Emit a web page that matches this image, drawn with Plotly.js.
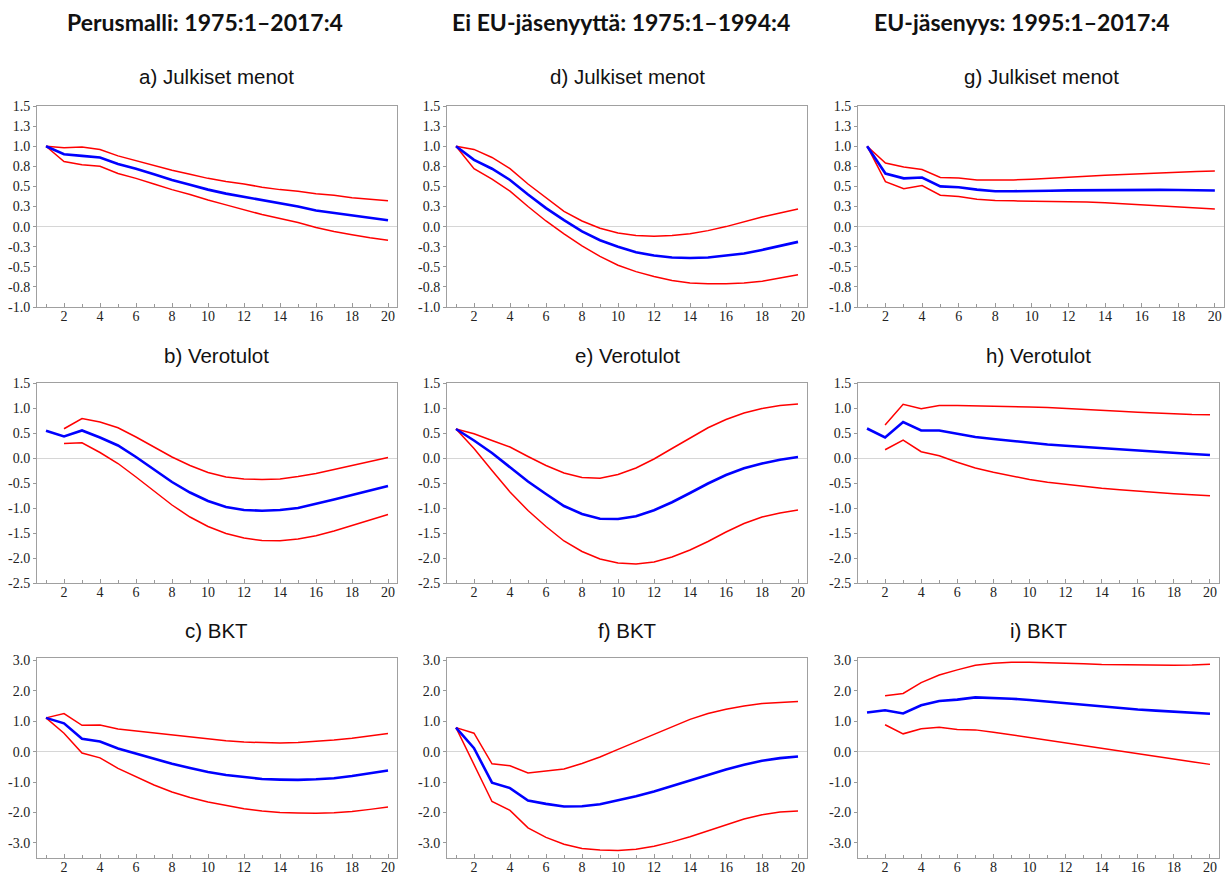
<!DOCTYPE html>
<html>
<head>
<meta charset="utf-8">
<script src="https://cdn.plot.ly/plotly-3.0.1.min.js"></script>
<style>html,body{margin:0;padding:0;background:#fff;}#chart{width:1225px;height:875px;}</style>
</head>
<body>
<div id="chart"></div>
<script>
// Horizon (quarters)
const horizon = [1,2,3,4,5,6,7,8,9,10,11,12,13,14,15,16,17,18,19,20];
const xTickVals = [2,4,6,8,10,12,14,16,18,20];

// Column headers and panel titles
const columnHeaders = ["Perusmalli: 1975:1\u20132017:4", "Ei EU-j\u00e4senyytt\u00e4: 1975:1\u20131994:4", "EU-j\u00e4senyys: 1995:1\u20132017:4"];
const panelTitles = ["a) Julkiset menot","b) Verotulot","c) BKT","d) Julkiset menot","e) Verotulot","f) BKT","g) Julkiset menot","h) Verotulot","i) BKT"];

// Y-axis ticks per row
const row1TickVals = [-1,-0.75,-0.5,-0.25,0,0.25,0.5,0.75,1,1.25,1.5];
const row1TickText = ["-1.0","-0.8","-0.5","-0.3","0.0","0.3","0.5","0.8","1.0","1.3","1.5"];
const row2TickVals = [-2.5,-2,-1.5,-1,-0.5,0,0.5,1,1.5];
const row2TickText = ["-2.5","-2.0","-1.5","-1.0","-0.5","0.0","0.5","1.0","1.5"];
const row3TickVals = [-3,-2,-1,0,1,2,3];
const row3TickText = ["-3.0","-2.0","-1.0","0.0","1.0","2.0","3.0"];

// a) Perusmalli, Julkiset menot
const a_mid = [1.00,0.90,0.88,0.86,0.78,0.72,0.65,0.58,0.52,0.46,0.41,0.37,0.33,0.29,0.25,0.20,0.17,0.14,0.11,0.08];
const a_up  = [1.00,0.98,0.99,0.96,0.88,0.82,0.76,0.70,0.65,0.60,0.56,0.53,0.49,0.46,0.44,0.41,0.39,0.36,0.34,0.32];
const a_lo  = [1.00,0.81,0.77,0.75,0.66,0.60,0.53,0.46,0.40,0.33,0.27,0.21,0.15,0.10,0.05,-0.01,-0.06,-0.10,-0.14,-0.17];
// b) Perusmalli, Verotulot
const b_mid = [0.545,0.43,0.55,0.41,0.25,0.02,-0.23,-0.48,-0.69,-0.86,-0.98,-1.04,-1.055,-1.04,-1.00,-0.92,-0.83,-0.74,-0.645,-0.56];
const b_up  = [null,0.585,0.79,0.72,0.605,0.42,0.22,0.02,-0.15,-0.29,-0.38,-0.42,-0.43,-0.42,-0.37,-0.31,-0.23,-0.15,-0.07,0.01];
const b_lo  = [null,0.29,0.305,0.11,-0.11,-0.38,-0.66,-0.94,-1.18,-1.37,-1.51,-1.60,-1.65,-1.655,-1.62,-1.555,-1.46,-1.35,-1.23,-1.13];
// c) Perusmalli, BKT
const c_mid = [1.11,0.93,0.42,0.335,0.10,-0.065,-0.24,-0.40,-0.54,-0.67,-0.77,-0.84,-0.90,-0.92,-0.93,-0.91,-0.875,-0.80,-0.71,-0.62];
const c_up  = [1.11,1.25,0.865,0.875,0.745,0.68,0.605,0.53,0.465,0.40,0.355,0.315,0.29,0.28,0.30,0.335,0.38,0.44,0.52,0.595];
const c_lo  = [1.11,0.605,-0.045,-0.205,-0.55,-0.82,-1.10,-1.33,-1.51,-1.66,-1.78,-1.88,-1.95,-2.00,-2.02,-2.03,-2.01,-1.97,-1.90,-1.82];
// d) Ei EU, Julkiset menot
const d_mid = [1.00,0.83,0.72,0.58,0.40,0.23,0.08,-0.06,-0.17,-0.25,-0.32,-0.36,-0.385,-0.39,-0.385,-0.36,-0.335,-0.29,-0.24,-0.19];
const d_up  = [1.00,0.96,0.86,0.72,0.53,0.36,0.19,0.07,-0.02,-0.08,-0.11,-0.12,-0.11,-0.09,-0.05,0.00,0.06,0.12,0.17,0.22];
const d_lo  = [1.00,0.72,0.59,0.44,0.25,0.07,-0.09,-0.24,-0.37,-0.48,-0.56,-0.62,-0.67,-0.70,-0.71,-0.71,-0.70,-0.68,-0.64,-0.60];
// e) Ei EU, Verotulot
const e_mid = [0.58,0.35,0.10,-0.18,-0.47,-0.72,-0.96,-1.12,-1.215,-1.22,-1.165,-1.045,-0.885,-0.70,-0.51,-0.34,-0.205,-0.11,-0.035,0.02];
const e_up  = [0.58,0.485,0.35,0.22,0.03,-0.15,-0.30,-0.39,-0.405,-0.33,-0.20,-0.02,0.19,0.405,0.605,0.77,0.90,0.99,1.05,1.08];
const e_lo  = [0.58,0.19,-0.25,-0.68,-1.05,-1.37,-1.66,-1.87,-2.02,-2.10,-2.12,-2.08,-1.98,-1.84,-1.67,-1.48,-1.31,-1.18,-1.10,-1.04];
// f) Ei EU, BKT
const f_mid = [0.79,0.11,-1.02,-1.20,-1.61,-1.72,-1.805,-1.795,-1.73,-1.61,-1.47,-1.31,-1.125,-0.94,-0.76,-0.585,-0.43,-0.30,-0.215,-0.16];
const f_up  = [0.79,0.605,-0.40,-0.465,-0.70,-0.64,-0.575,-0.39,-0.175,0.075,0.325,0.585,0.83,1.06,1.255,1.395,1.50,1.58,1.62,1.645];
const f_lo  = [0.79,-0.43,-1.64,-1.935,-2.51,-2.82,-3.05,-3.19,-3.24,-3.25,-3.21,-3.11,-2.97,-2.80,-2.61,-2.40,-2.22,-2.08,-1.99,-1.95];
// g) EU, Julkiset menot
const g_mid = [1.00,0.66,0.60,0.61,0.50,0.49,0.46,0.44,0.44,0.44,0.445,0.45,0.453,0.457,0.457,0.457,0.457,0.455,0.452,0.449];
const g_up  = [1.00,0.79,0.74,0.71,0.61,0.605,0.58,0.577,0.58,0.59,0.60,0.61,0.625,0.64,0.65,0.66,0.67,0.675,0.685,0.69];
const g_lo  = [1.00,0.56,0.47,0.51,0.39,0.375,0.34,0.325,0.32,0.317,0.317,0.313,0.305,0.297,0.285,0.272,0.26,0.247,0.23,0.218];
// h) EU, Verotulot
const h_mid = [0.59,0.41,0.72,0.55,0.55,0.485,0.42,0.38,0.34,0.305,0.27,0.245,0.22,0.19,0.165,0.14,0.12,0.10,0.08,0.06];
const h_up  = [null,0.66,1.075,0.985,1.05,1.05,1.045,1.045,1.03,1.02,1.01,0.995,0.975,0.955,0.935,0.915,0.895,0.88,0.87,0.865];
const h_lo  = [null,0.165,0.36,0.125,0.045,-0.085,-0.20,-0.285,-0.365,-0.43,-0.485,-0.53,-0.57,-0.605,-0.635,-0.665,-0.69,-0.715,-0.735,-0.755];
// i) EU, BKT
const i_mid = [1.285,1.36,1.255,1.525,1.665,1.71,1.785,1.775,1.74,1.70,1.645,1.59,1.535,1.48,1.43,1.385,1.35,1.32,1.285,1.245];
const i_up  = [null,1.84,1.915,2.27,2.52,2.69,2.84,2.91,2.94,2.94,2.93,2.91,2.89,2.865,2.855,2.845,2.84,2.84,2.85,2.875];
const i_lo  = [null,0.885,0.585,0.755,0.80,0.725,0.715,0.64,0.55,0.455,0.37,0.28,0.195,0.10,0.01,-0.075,-0.16,-0.25,-0.335,-0.42];

// Panel layout table (built from the arrays above)
const W = 1225, H = 875;
const colPx = [[37,397],[447,807],[858,1219]];
const rowPx = [[106,307],[383,583],[658,858]];
const rowRanges = [[-1,1.5],[-2.5,1.5],[-3.5,3.08]];
const rowTicks = [[row1TickVals,row1TickText],[row2TickVals,row2TickText],[row3TickVals,row3TickText]];
const panels = [
  {mid:a_mid, up:a_up, lo:a_lo, c:0, r:0},
  {mid:b_mid, up:b_up, lo:b_lo, c:0, r:1},
  {mid:c_mid, up:c_up, lo:c_lo, c:0, r:2},
  {mid:d_mid, up:d_up, lo:d_lo, c:1, r:0},
  {mid:e_mid, up:e_up, lo:e_lo, c:1, r:1},
  {mid:f_mid, up:f_up, lo:f_lo, c:1, r:2},
  {mid:g_mid, up:g_up, lo:g_lo, c:2, r:0, right:1224},
  {mid:h_mid, up:h_up, lo:h_lo, c:2, r:1},
  {mid:i_mid, up:i_up, lo:i_lo, c:2, r:2}
];

const SERIF = 'Liberation Serif';
const traces = [];
const layout = {
  width: W, height: H,
  margin: {l:0, r:0, t:0, b:0, pad:0},
  paper_bgcolor: '#fff', plot_bgcolor: '#fff',
  font: {family: SERIF, size: 14, color: '#222'},
  showlegend: false,
  annotations: []
};

panels.forEach((p, k) => {
  const n = k + 1;
  const xa = 'x' + (n === 1 ? '' : n), ya = 'y' + (n === 1 ? '' : n);
  const xl = 'xaxis' + (n === 1 ? '' : n), yl = 'yaxis' + (n === 1 ? '' : n);
  const x0 = colPx[p.c][0], x1 = p.right || colPx[p.c][1];
  const y0 = rowPx[p.r][0], y1 = rowPx[p.r][1];
  layout[xl] = {
    domain: [x0 / W, x1 / W], anchor: ya,
    range: [0.5, 20.5], tickmode: 'array', tickvals: xTickVals,
    ticks: 'inside', ticklen: 4, tickcolor: '#999',
    minor: {dtick: 1, tick0: 0, ticks: 'inside', ticklen: 3, tickcolor: '#999', showgrid: false},
    ticklabelstandoff: -4,
    showgrid: false, zeroline: false,
    showline: true, mirror: true, linecolor: '#a0a0a0', linewidth: 1,
    tickfont: {family: SERIF, size: 14, color: '#222'}, fixedrange: true
  };
  layout[yl] = {
    domain: [1 - y1 / H, 1 - y0 / H], anchor: xa,
    range: rowRanges[p.r], tickmode: 'array', tickvals: rowTicks[p.r][0], ticktext: rowTicks[p.r][1],
    ticks: 'outside', ticklen: 3, tickcolor: '#999',
    showgrid: false, zeroline: true, zerolinecolor: '#d6d6d6', zerolinewidth: 1,
    showline: true, mirror: true, linecolor: '#a0a0a0', linewidth: 1,
    tickfont: {family: SERIF, size: 14, color: '#222'}, fixedrange: true
  };
  traces.push({type: 'scatter', x: horizon, y: p.up, xaxis: xa, yaxis: ya, mode: 'lines', line: {color: '#ff0000', width: 1.5}, connectgaps: false, hoverinfo: 'skip'});
  traces.push({type: 'scatter', x: horizon, y: p.lo, xaxis: xa, yaxis: ya, mode: 'lines', line: {color: '#ff0000', width: 1.5}, connectgaps: false, hoverinfo: 'skip'});
  traces.push({type: 'scatter', x: horizon, y: p.mid, xaxis: xa, yaxis: ya, mode: 'lines', line: {color: '#0000ff', width: 2.6}, hoverinfo: 'skip'});
  const titleY = [77, 355, 630][p.r];
  layout.annotations.push({
    text: panelTitles[k], xref: 'paper', yref: 'paper',
    x: ((x0 + x1) / 2) / W, y: 1 - titleY / H, xanchor: 'center', yanchor: 'middle',
    showarrow: false, font: {family: 'Liberation Sans', size: 20.5, color: '#111'}
  });
});

const headerX = [205, 621, 1022];
columnHeaders.forEach((t, i) => {
  layout.annotations.push({
    text: '<b>' + t + '</b>', xref: 'paper', yref: 'paper',
    x: headerX[i] / W, y: 1 - 22 / H, xanchor: 'center', yanchor: 'middle',
    showarrow: false, font: {family: 'Lato', size: 23, color: '#111'}
  });
});

Plotly.newPlot('chart', traces, layout, {staticPlot: true, displayModeBar: false});
</script>
</body>
</html>
